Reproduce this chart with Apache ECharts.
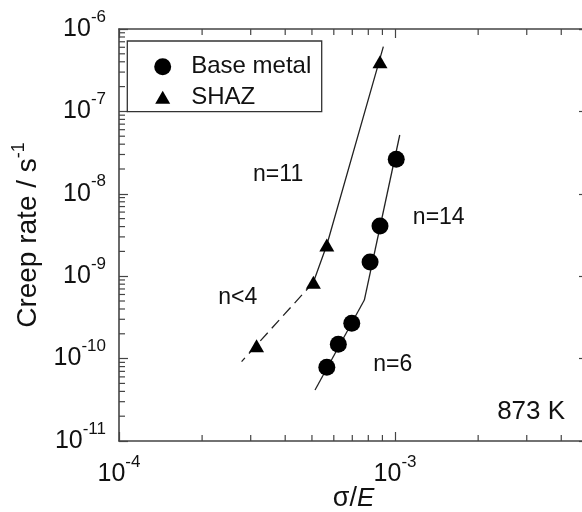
<!DOCTYPE html>
<html><head><meta charset="utf-8">
<script src="https://cdn.jsdelivr.net/npm/echarts@6/dist/echarts.min.js"></script>
<style>html,body{margin:0;padding:0;background:#fff}#c{width:582px;height:512px}</style>
</head><body><div id="c"></div>
<script>
// ---- data ----
const baseMetal = [[1.01e-3, 2.62e-8], [8.82e-4, 4.07e-9], [8.12e-4, 1.49e-9], [6.97e-4, 2.68e-10], [6.23e-4, 1.49e-10], [5.66e-4, 7.84e-11]];
const shaz = [[8.82e-4, 4.01e-7], [5.66e-4, 2.39e-9], [5.06e-4, 8.43e-10], [3.15e-4, 1.43e-10]];
const baseFitHigh = [[1.04e-3, 5.17e-8], [7.74e-4, 5.14e-10]];
const baseFitLow = [[7.74e-4, 5.14e-10], [5.13e-4, 4.16e-11]];
const shazFitSolid = [[9.07e-4, 6.1e-7], [5.66e-4, 2.39e-9], [5.06e-4, 8.43e-10]];
const shazFitDashed = [[5.06e-4, 8.43e-10], [2.78e-4, 9.2e-11]];
const slopeNotes = [['n=11', 3.06e-4, 1.69e-8], ['n=14', 1.16e-3, 5.08e-9], ['n<4', 2.29e-4, 5.43e-10], ['n=6', 8.34e-4, 8.36e-11]];
const tempNote = [['873 K', 4.13e-3, 2.25e-11]];
const xRange = [1e-4, 5e-3];
const yRange = [1e-11, 1e-6];
const xMinorTicks = [2e-4, 3e-4, 4e-4, 5e-4, 6e-4, 7e-4, 8e-4, 9e-4, 2e-3, 3e-3, 4e-3];
const yMinorTicks = [2e-11, 3e-11, 4e-11, 5e-11, 6e-11, 7e-11, 8e-11, 9e-11,
  2e-10, 3e-10, 4e-10, 5e-10, 6e-10, 7e-10, 8e-10, 9e-10,
  2e-9, 3e-9, 4e-9, 5e-9, 6e-9, 7e-9, 8e-9, 9e-9,
  2e-8, 3e-8, 4e-8, 5e-8, 6e-8, 7e-8, 8e-8, 9e-8,
  2e-7, 3e-7, 4e-7, 5e-7, 6e-7, 7e-7, 8e-7, 9e-7];
const seriesNames = ['Base metal', 'SHAZ'];
const xTitle = ['σ/', 'E'];
const yTitle = ['Creep rate / s', '-1'];

// ---- styles ----
const FONT = '"Liberation Sans", Arial, Helvetica, sans-serif';
const INK = '#111';
const AXIS = '#444';
const lineCol = '#222';

function powLabel(v) {
  const l = Math.log10(v);
  const e = Math.round(l);
  if (Math.abs(l - e) > 1e-6) return '';
  return '{a|10}{b|' + e + '}';
}
const richPow = {
  a: { fontSize: 25, fontFamily: FONT, color: INK, padding: [8, 0, 8, 0] },
  b: { fontSize: 17, fontFamily: FONT, color: INK, verticalAlign: 'top', lineHeight: 17 }
};

function mkAxis(pos, isX, showLabel) {
  return {
    type: 'log', logBase: 10,
    min: isX ? xRange[0] : yRange[0], max: isX ? xRange[1] : yRange[1],
    position: pos,
    axisLine: { show: true, onZero: false, lineStyle: { color: AXIS, width: 1.6 } },
    axisTick: { show: true, inside: true, length: 9, lineStyle: { color: AXIS, width: 1.2 } },
    splitLine: { show: false },
    minorTick: { show: false },
    axisLabel: { show: showLabel, formatter: powLabel, rich: richPow, margin: 13, showMaxLabel: isX ? false : true, hideOverlap: false },
  };
}

const xAx0 = mkAxis('bottom', true, true);
xAx0.name = '{a|' + xTitle[0] + '}{b|' + xTitle[1] + '}';
xAx0.nameLocation = 'middle';
xAx0.nameGap = 44;
xAx0.nameMoveOverlap = false;
xAx0.nameTextStyle = { rich: {
  a: { fontSize: 27, fontFamily: FONT, color: INK },
  b: { fontSize: 26, fontFamily: FONT, color: INK, fontStyle: 'italic' } } };
const xAx1 = mkAxis('top', true, false);
const yAx0 = mkAxis('left', false, true);
yAx0.name = '{a|' + yTitle[0] + '}{b|' + yTitle[1] + '}';
yAx0.nameLocation = 'middle';
yAx0.nameGap = 76;
yAx0.nameTextStyle = { rich: {
  a: { fontSize: 28, fontFamily: FONT, color: INK, padding: [5, 0, 0, 0] },
  b: { fontSize: 18, fontFamily: FONT, color: INK, verticalAlign: 'top', lineHeight: 18 } } };
const yAx1 = mkAxis('right', false, false);

const fitLine = (data, dashed) => ({
  type: 'line', data, symbol: 'none', silent: true, animation: false,
  lineStyle: { color: lineCol, width: 1.3, type: dashed ? [11, 6] : 'solid', opacity: 1 },
  z: 2
});

const textSeries = (arr, pos, size) => ({
  type: 'scatter', data: arr.map(d => ({ name: d[0], value: [d[1], d[2]] })),
  symbolSize: 0, silent: true, animation: false,
  itemStyle: { opacity: 1 },
  label: { show: true, position: pos, distance: 0, formatter: p => p.name,
    fontSize: size, fontFamily: FONT, color: INK },
  z: 5
});

const option = {
  backgroundColor: '#fff',
  animation: false,
  grid: { left: 119, top: 29, width: 469, height: 412, show: false, outerBoundsMode: 'none', containLabel: false },
  xAxis: [xAx0, xAx1],
  yAxis: [yAx0, yAx1],
  legend: [
    { data: [{ name: seriesNames[0], icon: 'circle' }], left: 154.2, top: 54.8, padding: 0,
      itemWidth: 17, itemHeight: 17, selectedMode: false,
      textStyle: { fontSize: 24, fontFamily: FONT, color: INK, lineHeight: 17, padding: [0, 0, 0, 15] } },
    { data: [{ name: seriesNames[1], icon: 'triangle' }], left: 155.2, top: 85.2, padding: 0,
      itemWidth: 15, itemHeight: 13, selectedMode: false,
      textStyle: { fontSize: 24, fontFamily: FONT, color: INK, lineHeight: 13, padding: [0, 0, 0, 16] } }
  ],
  graphic: [{ type: 'rect', shape: { x: 127.3, y: 41, width: 194.4, height: 70.7 },
    style: { fill: 'none', stroke: '#333', lineWidth: 1.3 }, z: 10 }],
  series: [
    fitLine(baseFitHigh, false),
    fitLine(baseFitLow, false),
    fitLine(shazFitSolid, false),
    fitLine(shazFitDashed, true),
    { name: seriesNames[0], type: 'scatter', data: baseMetal, symbol: 'circle', symbolSize: 17,
      itemStyle: { color: '#000', opacity: 1 }, z: 4, animation: false },
    { name: seriesNames[1], type: 'scatter', data: shaz, symbol: 'triangle', symbolSize: [15, 13],
      itemStyle: { color: '#000', opacity: 1 }, z: 4, animation: false },
    textSeries(slopeNotes, 'right', 23),
    textSeries(tempNote, 'left', 26),
    { type: 'custom', data: [[1e-3, 1e-9]], silent: true, animation: false, clip: false, z: 6,
      renderItem: (params, api) => {
        const ch = [];
        const ls = { stroke: AXIS, lineWidth: 1.2 };
        const L = 6;
        xMinorTicks.forEach(v => {
          const b = api.coord([v, yRange[0]]);
          const t = api.coord([v, yRange[1]]);
          ch.push({ type: 'line', shape: { x1: b[0], y1: b[1], x2: b[0], y2: b[1] - L }, style: ls });
          ch.push({ type: 'line', shape: { x1: t[0], y1: t[1], x2: t[0], y2: t[1] + L }, style: ls });
        });
        yMinorTicks.forEach(v => {
          const l = api.coord([xRange[0], v]);
          const r = api.coord([xRange[1], v]);
          ch.push({ type: 'line', shape: { x1: l[0], y1: l[1], x2: l[0] + L, y2: l[1] }, style: ls });
          ch.push({ type: 'line', shape: { x1: r[0], y1: r[1], x2: r[0] - L, y2: r[1] }, style: ls });
        });
        return { type: 'group', children: ch };
      } }
  ]
};
const chart = echarts.init(document.getElementById('c'), null, { renderer: 'canvas' });
chart.setOption(option);
</script></body></html>
